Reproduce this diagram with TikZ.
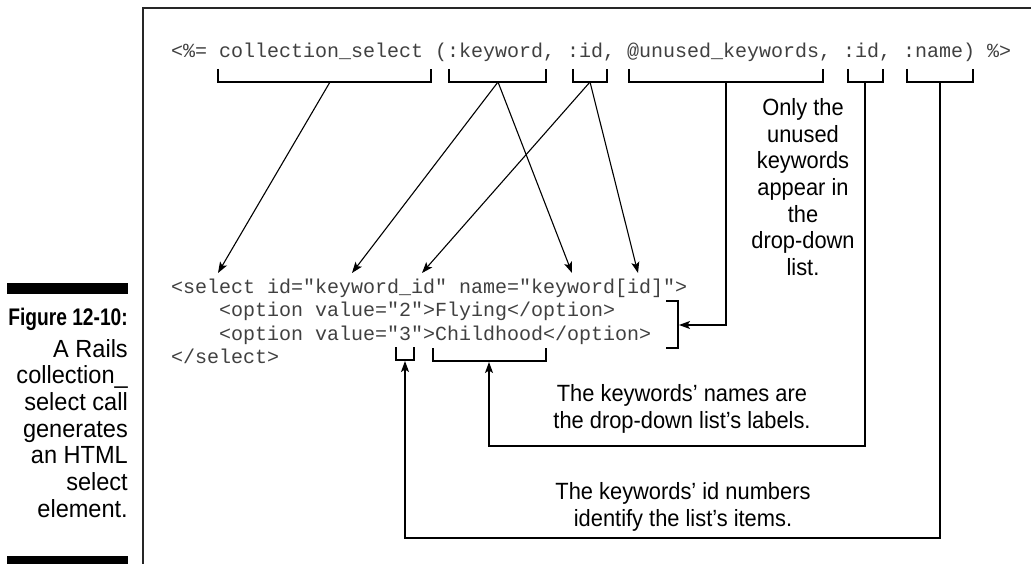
\documentclass[tikz,border=0pt]{standalone}
\usepackage{fontspec}
\setmainfont{Liberation Sans}
\setmonofont{Liberation Mono}
\newfontfamily\notefont{Liberation Sans}[FakeStretch=0.93]
\newfontfamily\sidefont{Liberation Sans}[FakeStretch=0.95]
\newfontfamily\figfont{Liberation Sans}[FakeStretch=0.8]
\usetikzlibrary{arrows.meta}
\begin{document}
\begin{tikzpicture}[x=1pt,y=-1pt,
  code/.style={font=\ttfamily\fontsize{20}{23}\selectfont, text=black!75, inner sep=0pt, anchor=base west},
  note/.style={font=\notefont\fontsize{23.5}{26.7}\selectfont, align=center, inner sep=0pt},
  side/.style={font=\sidefont\fontsize{24.8}{26.7}\selectfont, align=right, inner sep=0pt},
  brk/.style={line width=1.2pt, line join=miter},
  conn/.style={line width=1.1pt, -{Stealth[length=11pt,width=8pt,inset=2.5pt]}},
  plain/.style={line width=1.1pt}]
\useasboundingbox (0,0) rectangle (1031,564);
% frame
\draw[line width=1.3pt, black!85] (143,564) -- (143,8) -- (1031,8);
% sidebar
\fill (7,283) rectangle (128,294);
\fill (7,556) rectangle (128,564);
\node[inner sep=0pt, anchor=base east, font=\figfont\bfseries\fontsize{24}{26.7}\selectfont] (fig) at (128,325) {Figure 12-10:};
\node[side, anchor=north east] (cap) at (128,339) {A Rails\\collection\_\\select call\\generates\\an HTML\\select\\element.};
% code
\node[code] (l0) at (171,58) {<\%= collection\_select (:keyword, :id, @unused\_keywords, :id, :name) \%>};
\node[code] (l1) at (171,293) {<select id="keyword\_id" name="keyword[id]">};
\node[code] (l2) at (219,316.5) {<option value="2">Flying</option>};
\node[code] (l3) at (219,340) {<option value="3">Childhood</option>};
\node[code] (l4) at (171,363) {</select>};
% top brackets
\draw[brk] (218,69) -- (218,82) -- (431,82) -- (431,69);
\draw[brk] (449,69) -- (449,82) -- (546,82) -- (546,69);
\draw[brk] (573,69) -- (573,82) -- (607,82) -- (607,69);
\draw[brk] (629,69) -- (629,82) -- (823,82) -- (823,69);
\draw[brk] (848,69) -- (848,82) -- (883,82) -- (883,69);
\draw[brk] (907,69) -- (907,82) -- (973,82) -- (973,69);
\coordinate (bsel) at (330,82);
\coordinate (bkey) at (498,82);
\coordinate (bid) at (590,82);
\coordinate (bun) at (726,82);
\coordinate (bid2) at (865,82);
\coordinate (bname) at (940,82);
% bottom brackets
\draw[brk] (396,347) -- (396,360) -- (414,360) -- (414,347);
\draw[brk] (433,348) -- (433,361) -- (546,361) -- (546,348);
\draw[brk] (666,301) -- (678,301) -- (678,348) -- (666,348);
\coordinate (tthree) at (405,361);
\coordinate (tchild) at (489,362);
\coordinate (topt) at (679,325);
% arrow targets
\coordinate (tsel) at (218,273);
\coordinate (tkw) at (352,273);
\coordinate (tkid) at (422,273);
\coordinate (tnk) at (572,273);
\coordinate (tnid) at (638,273);
\coordinate (c1) at (726,325);
\coordinate (c2) at (865,446);
\coordinate (c3) at (489,446);
\coordinate (c4) at (940,538);
\coordinate (c5) at (405,538);
% connectors
\draw[conn] (bsel) -- (tsel);
\draw[conn] (bkey) -- (tkw);
\draw[conn] (bkey) -- (tnk);
\draw[conn] (bid) -- (tkid);
\draw[conn] (bid) -- (tnid);
\draw[conn] (bun) -- (c1) -- (topt);
\draw[conn] (bid2) -- (c2) -- (c3) -- (tchild);
\draw[conn] (bname) -- (c4) -- (c5) -- (tthree);
% notes
\node[note] (n1) at (803,187) {Only the\\unused\\keywords\\appear in\\the\\drop-down\\list.};
\node[note] (n2) at (682,409) {The keywords’ names are\\the drop-down list’s labels.};
\node[note] (n3) at (683,507) {The keywords’ id numbers\\identify the list’s items.};
\end{tikzpicture}
\end{document}
